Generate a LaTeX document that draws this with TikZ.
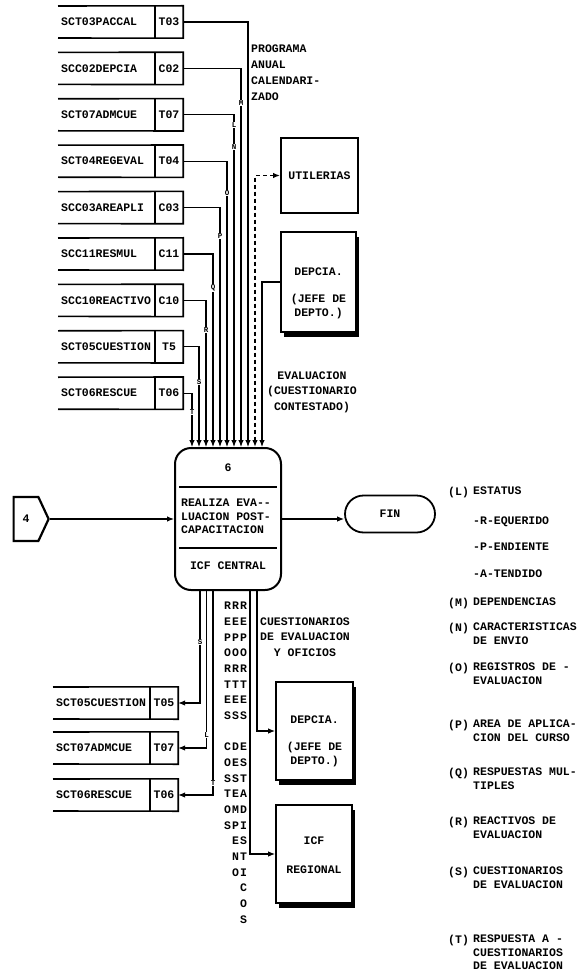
\documentclass[tikz,border=0pt]{standalone}
\usepackage{fontspec}
\newfontfamily\dpfont{Liberation Mono}
\usetikzlibrary{arrows.meta,shapes.misc,shapes.symbols,shadows}

\tikzset{
  txt/.style={font=\dpfont\bfseries\fontsize{11.5}{13.5}\selectfont, inner sep=0pt},
  lbl/.style={txt, font=\dpfont\bfseries\fontsize{11.5}{15.5}\selectfont},
  vtext/.style={txt, align=center, anchor=north, font=\dpfont\bfseries\fontsize{11.5}{15.67}\selectfont},
  stcode/.style={txt, minimum width=28pt, minimum height=32pt},
  stline/.style={line width=1.6pt},
  flow/.style={line width=1.1pt, -{Latex[length=7pt,width=5.5pt]}},
  dashflow/.style={line width=1.5pt, dash pattern=on 4pt off 3pt, {Latex[length=7pt,width=5.5pt]}-{Latex[length=7pt,width=5.5pt]}},
  extbox/.style={txt, draw, line width=1.8pt, fill=white, align=center},
  shbox/.style={extbox, drop shadow={shadow xshift=3pt, shadow yshift=-5pt, opacity=1, fill=black}},
  flowtag/.style={inner sep=0.3pt, fill=white, font=\dpfont\bfseries\fontsize{7.5}{7.5}\selectfont},
  legtag/.style={txt, anchor=north west, yshift=5pt},
  legtxt/.style={txt, align=left, anchor=north west, yshift=5pt}
}

\begin{document}
\begin{tikzpicture}[x=1pt,y=-1pt]
    \path[use as bounding box, fill=white] (0,0) rectangle (581,976);

    % Process 6
    \node[draw, rounded corners=16pt, line width=2pt, minimum width=106pt, minimum height=142pt] (proc) at (228,519) {};
    \node[txt] (pnum) at (228,468) {6};
    \draw[line width=1.5pt] (179,487) -- (277,487);
    \node[txt, align=left] (pname) at (226,516.5) {REALIZA EVA--\\LUACION POST-\\CAPACITACION};
    \draw[line width=1.5pt] (179,548) -- (277,548);
    \node[txt] (ploc) at (228,566) {ICF CENTRAL};

    % Off-page connector and end
    \node[txt, draw, line width=2.2pt, signal, signal to=east, signal pointer angle=130,
          minimum width=35pt, minimum height=44pt] (ofp) at (26,519) {4};
    \draw[flow] (ofp.east) -- (proc.west);
    \node[txt, draw, line width=1.8pt, rounded rectangle, minimum width=90pt, minimum height=37pt] (fin) at (390,514) {FIN};
    \draw[flow] (proc.east) -- (proc.east -| fin.west);

    % External entities
    \node[extbox, minimum width=77pt, minimum height=75pt] (util) at (319.5,175.5) {UTILERIAS};
    \node[shbox, minimum width=75pt, minimum height=100pt] (dep1) at (318.5,282) {};
    \node[txt, align=center] (dep1t) at (318.5,293) {DEPCIA.\\[14pt](JEFE DE\\DEPTO.)};
    \node[shbox, minimum width=77pt, minimum height=98pt] (dep2) at (314.5,731) {};
    \node[txt, align=center] (dep2t) at (314.5,741) {DEPCIA.\\[14pt](JEFE DE\\DEPTO.)};
    \node[shbox, minimum width=76pt, minimum height=98pt] (icfr) at (314,854) {};
    \node[txt, align=center] (icfrt) at (314,855) {ICF\\[16pt]REGIONAL};

    % Input stores
    \foreach \nm/\cd/\i in {SCT03PACCAL/T03/0, SCC02DEPCIA/C02/1, SCT07ADMCUE/T07/2,
        SCT04REGEVAL/T04/3, SCC03AREAPLI/C03/4, SCC11RESMUL/C11/5,
        SCC10REACTIVO/C10/6, SCT05CUESTION/T5/7, SCT06RESCUE/T06/8}{
      \node[stcode] (st\i) at (169,{22+46.4*\i}) {\cd};
      \node[txt, anchor=west] (sn\i) at (61,{22+46.4*\i}) {\nm};
      \draw[stline] (58,{6+46.4*\i}) -- (st\i.north east) -- (st\i.south east) -- (58,{38+46.4*\i});
      \draw[stline] (st\i.north west) -- (st\i.south west);
      \coordinate (v\i) at ({248-7*\i},0);
      \draw[flow] (st\i.east) -| (v\i |- proc.north);
    }
    \coordinate (v9) at (255,0);
    \coordinate (v10) at (262,0);
    \draw[dashflow] (util.west) -| (v9 |- proc.north);
    \draw[flow] (dep1.west) -| (v10 |- proc.north);

    % Output stores
    \foreach \nm/\cd/\i/\yy/\xx in {SCT05CUESTION/T05/1/703/200, SCT07ADMCUE/T07/2/748/206.5,
        SCT06RESCUE/T06/3/795/213}{
      \node[stcode] (sb\i) at (164,\yy) {\cd};
      \node[txt, anchor=west] (sbn\i) at (56,\yy) {\nm};
      \draw[stline] (53,\yy-16) -- (sb\i.north east) -- (sb\i.south east) -- (53,\yy+16);
      \draw[stline] (sb\i.north west) -- (sb\i.south west);
      \coordinate (w\i) at (\xx,0);
      \draw[flow] (w\i |- proc.south) |- (sb\i.east);
    }
    \coordinate (w4) at (250,0);
    \coordinate (w5) at (257,0);
    \draw[flow] (w4 |- proc.south) |- (icfr.west);
    \draw[flow] (w5 |- proc.south) |- (dep2.west);

    % Flow letters
    \foreach \tg/\xx/\yy [count=\k] in {M/241/103, L/234/125, N/234/147, O/227/193, P/220/236,
        Q/213/288, R/206/330, S/199/382, T/192/412, S/200/642, L/206.5/735, T/213/783}
      \node[flowtag] (ft\k) at (\xx,\yy) {\tg};

    % Flow labels
    \node[lbl, align=left, anchor=north west, font=\dpfont\bfseries\fontsize{11.5}{16}\selectfont] (lprog) at (251,45) {PROGRAMA\\ANUAL\\CALENDARI-\\ZADO};
    \node[lbl, align=center] (leval) at (312,392) {EVALUACION\\(CUESTIONARIO\\CONTESTADO)};
    \node[lbl, align=center] (lcues) at (305,637) {CUESTIONARIOS\\DE EVALUACION\\Y OFICIOS};
    \foreach \cl/\xx [count=\k] in {{R\\E\\P\\O\\R\\T\\E\\S\\[15.67pt]C\\O\\S\\T\\O\\S}/227.5,
        {R\\E\\P\\O\\R\\T\\E\\S\\[15.67pt]D\\E\\S\\E\\M\\P\\E\\N\\O}/235.5,
        {R\\E\\P\\O\\R\\T\\E\\S\\[15.67pt]E\\S\\T\\A\\D\\I\\S\\T\\I\\C\\O\\S}/243.5}
      \node[vtext] (rep\k) at (\xx,602) {\cl};

    % Legend
    \foreach \tg/\tx/\yy in {L/ESTATUS/492, M/DEPENDENCIAS/603, N/{CARACTERISTICAS\\DE ENVIO}/628,
        O/{REGISTROS DE -\\EVALUACION}/668, P/{AREA DE APLICA-\\CION DEL CURSO}/725,
        Q/{RESPUESTAS MUL-\\TIPLES}/773, R/{REACTIVOS DE\\EVALUACION}/822,
        S/{CUESTIONARIOS\\DE EVALUACION}/872, T/{RESPUESTA A -\\CUESTIONARIOS\\DE EVALUACION}/940}{
      \node[legtag] (lg\tg) at (448,\yy) {(\tg)};
      \node[legtxt] (lt\tg) at (473,\yy) {\tx};
    }
    \foreach \tx/\yy [count=\k] in {-R-EQUERIDO/522, -P-ENDIENTE/548, -A-TENDIDO/575}
      \node[legtxt] (ls\k) at (473,\yy) {\tx};
\end{tikzpicture}
\end{document}
